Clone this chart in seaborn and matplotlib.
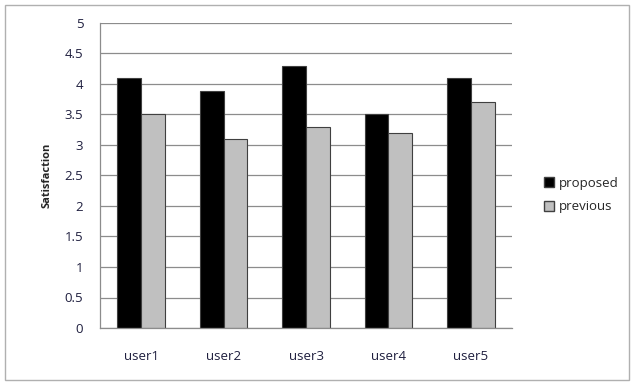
import pandas as pd
import matplotlib.pyplot as plt
import matplotlib.patches as mpatches
import seaborn as sns

users = ['user1', 'user2', 'user3', 'user4', 'user5']
proposed = [4.1, 3.88, 4.3, 3.5, 4.1]
previous = [3.5, 3.1, 3.3, 3.2, 3.7]

data = pd.DataFrame({
    'user': users * 2,
    'method': ['proposed'] * len(users) + ['previous'] * len(users),
    'Satisfaction': proposed + previous,
})

sns.set_style('white')
plt.rcParams['font.family'] = ['Open Sans', 'DejaVu Sans']

fig = plt.figure(figsize=(6.35, 3.85), dpi=100)
ax = fig.add_axes([100 / 635, 1 - 328 / 385, 412 / 635, 305 / 385])

sns.barplot(data=data, x='user', y='Satisfaction', hue='method',
            palette={'proposed': '#000000', 'previous': '#c0c0c0'},
            width=0.58, edgecolor='#404040', linewidth=0.8, ax=ax)

ax.set_ylim(0, 5)
ax.set_yticks([0, 0.5, 1, 1.5, 2, 2.5, 3, 3.5, 4, 4.5, 5])
ax.set_yticklabels(['0', '0.5', '1', '1.5', '2', '2.5', '3', '3.5', '4', '4.5', '5'])
ax.set_xlim(-0.5, 4.5)
ax.yaxis.grid(True, color='#8c8c8c', linewidth=0.9)
ax.set_axisbelow(True)

for side in ['top', 'right']:
    ax.spines[side].set_visible(False)
for side in ['left', 'bottom']:
    ax.spines[side].set_color('#8c8c8c')
    ax.spines[side].set_linewidth(0.9)

ax.tick_params(axis='y', length=5, color='#8c8c8c', labelsize=9.5,
               labelcolor='#1f1f3f', pad=7)
ax.tick_params(axis='x', which='major', length=0, labelsize=9.5,
               labelcolor='#1f1f3f', pad=16)
ax.set_xticks([-0.5, 0.5, 1.5, 2.5, 3.5, 4.5], minor=True)
ax.tick_params(axis='x', which='minor', length=5, color='#8c8c8c')

ax.set_xlabel('')
ax.set_ylabel('Satisfaction', fontsize=8, fontweight='bold', labelpad=9)

ax.legend_.remove()
handles = [mpatches.Patch(facecolor='#000000', edgecolor='#404040', label='proposed'),
           mpatches.Patch(facecolor='#c0c0c0', edgecolor='#404040', label='previous')]
fig.legend(handles=handles, loc='center left', bbox_to_anchor=(532 / 635, 1 - 195 / 385),
           frameon=False, fontsize=9.5, handlelength=0.8, handleheight=0.8,
           handletextpad=0.3, labelspacing=0.8)

fig.patches.append(mpatches.Rectangle((5 / 635, 5 / 385), 624 / 635, 375 / 385,
                                      transform=fig.transFigure, fill=False,
                                      edgecolor='#b0b0b0', linewidth=1.0))

fig.savefig('out.png', dpi=100)
